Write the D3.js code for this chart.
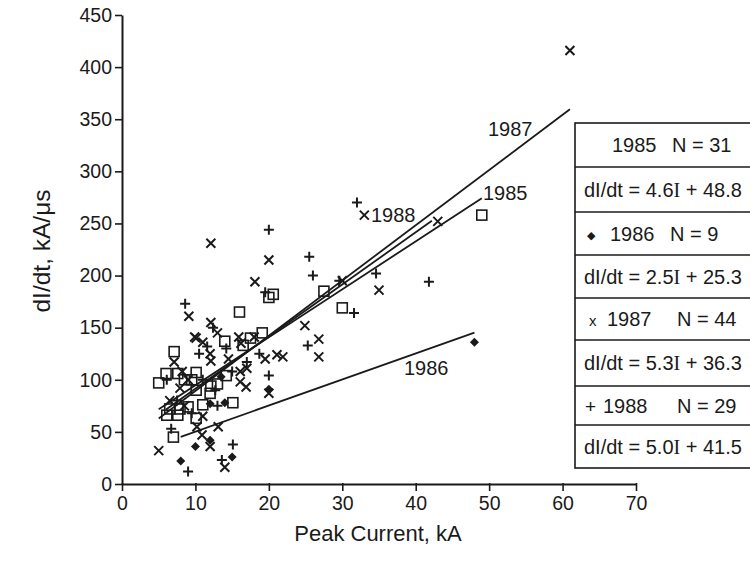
<!DOCTYPE html>
<html><head><meta charset="utf-8">
<script src="https://cdn.jsdelivr.net/npm/d3@7"></script>
<style>body{margin:0;background:#fff;} svg{display:block;font-family:"Liberation Sans",Arial,sans-serif;}</style>
</head><body>
<script>
const xTicks = [0,10,20,30,40,50,60,70];
const yTicks = [0,50,100,150,200,250,300,350,400,450];

const pts1985 = [[49,258],[30,169],[27.5,185],[20.6,182],[20,179],[19.1,145],[16,165],[16.5,133],[14,137],[14.2,104],[15.1,78],[12.1,94],[12,87],[10.1,107],[10.1,90],[10.1,63],[9,74],[7.9,72],[7.6,106],[7.6,66],[7.1,127],[7,45],[6.1,66],[6,106],[5,97],[8.5,100],[11,76],[13,96],[6.5,72],[9.5,100],[17.5,140]];
const pts1986 = [[48,136],[20,91],[15,26],[12,42],[10,36],[8,22],[12,77],[14,78],[13.5,103]];
const pts1987 = [[61,416],[33,258],[43,252],[35,186],[26.8,139],[26.8,122],[24.9,152],[21.9,122],[21.1,124],[20,87],[12.1,231],[20,215],[18.1,194],[9.1,161],[12.1,155],[9.9,141],[15.9,141],[18,141],[10.1,140],[12.1,118],[11,136],[7.1,117],[8.2,108],[7.9,92],[16.2,135],[16.1,108],[16.9,93],[10.2,55],[13.1,55],[10.9,47],[12,36],[14,16],[5,32],[17,111],[16.1,98],[30,195],[12,125],[9,100],[14.5,120],[11,65],[8.5,75],[13,145],[6.5,80],[19.5,120]];
const pts1988 = [[32,270],[34.6,202],[41.8,194],[31.6,164],[20,244],[25.5,218],[26,200],[29.6,195],[8.6,173],[12.4,150],[19.5,184],[11.6,132],[6.1,100],[12.7,90],[6.7,53],[9,12],[15.1,38],[13.6,23],[18.7,125],[25.3,133],[20,104],[10.5,125],[17,117],[15,108],[9.5,68],[13,75],[11,100],[7.5,80],[14.2,130]];

// regression lines
const fitLabels = ["1985","1986","1987","1988"];
const fitSlopes = [4.6,2.5,5.3,5.0];
const fitIntercepts = [48.8,25.3,36.3,41.5];
const fitStarts = [5,8,5,6];
const fitEnds = [49,48,61,42.2];

const legendYears = ["1985","1986","1987","1988"];
const legendN = ["N = 31","N = 9","N = 44","N = 29"];
const legendSyms = ["","\u25C6","x","+"];
const eqSlopes = ["4.6","2.5","5.3","5.0"];
const eqIntercepts = ["48.8","25.3","36.3","41.5"];

const W=750,H=561;
const svg=d3.select("body").append("svg").attr("width",W).attr("height",H);
const x=d3.scaleLinear().domain([0,70]).range([122,636]);
const y=d3.scaleLinear().domain([0,450]).range([484,15]);
const ink="#1a1a1a";
const FF="Liberation Sans, Arial, sans-serif";

// axes
const xa=svg.append("g").attr("transform","translate(0,484)").call(d3.axisBottom(x).tickValues(xTicks).tickSize(7).tickPadding(5).tickSizeOuter(0));
const ya=svg.append("g").attr("transform","translate(122,0)").call(d3.axisLeft(y).tickValues(yTicks).tickSize(7).tickPadding(3).tickSizeOuter(0));
[xa,ya].forEach(a=>{
  a.select(".domain").attr("stroke",ink).attr("stroke-width",2);
  a.selectAll(".tick line").attr("stroke",ink).attr("stroke-width",1.6);
  a.selectAll(".tick text").attr("font-size",19.5).attr("fill",ink).attr("font-family",FF);
});
xa.selectAll(".tick line").attr("y1",-1);

svg.append("text").attr("x",378).attr("y",541).attr("text-anchor","middle").attr("font-size",22).attr("fill",ink).text("Peak Current, kA");
svg.append("text").attr("transform","translate(50,251) rotate(-90)").attr("text-anchor","middle").attr("font-size",24.5).attr("fill",ink).text("dI/dt, kA/\u03BCs");

// regression lines
const lg=svg.append("g");
fitLabels.forEach((l,i)=>{
  lg.append("line")
   .attr("x1",x(fitStarts[i])).attr("y1",y(fitSlopes[i]*fitStarts[i]+fitIntercepts[i]))
   .attr("x2",x(fitEnds[i])).attr("y2",y(fitSlopes[i]*fitEnds[i]+fitIntercepts[i]))
   .attr("stroke",ink).attr("stroke-width",1.8);
});
const lineLabelPos = {"1987":[488,136],"1985":[483,200],"1988":[371,222],"1986":[404,375]};
fitLabels.forEach(l=>{
  svg.append("text").attr("x",lineLabelPos[l][0]).attr("y",lineLabelPos[l][1]).attr("font-size",20).attr("fill",ink).text(l);
});

// markers
const mg=svg.append("g");
pts1985.forEach(d=>{
  mg.append("rect").attr("x",x(d[0])-5).attr("y",y(d[1])-5).attr("width",10).attr("height",10)
    .attr("fill","none").attr("stroke",ink).attr("stroke-width",1.6);
});
pts1986.forEach(d=>{
  const cx=x(d[0]),cy=y(d[1]),r=4.5;
  mg.append("path").attr("d",`M${cx},${cy-r}L${cx+r},${cy}L${cx},${cy+r}L${cx-r},${cy}Z`).attr("fill",ink);
});
pts1987.forEach(d=>{
  const cx=x(d[0]),cy=y(d[1]),r=4.5;
  mg.append("path").attr("d",`M${cx-r},${cy-r}L${cx+r},${cy+r}M${cx-r},${cy+r}L${cx+r},${cy-r}`).attr("stroke",ink).attr("stroke-width",2).attr("fill","none");
});
pts1988.forEach(d=>{
  const cx=x(d[0]),cy=y(d[1]),r=5;
  mg.append("path").attr("d",`M${cx-r},${cy}L${cx+r},${cy}M${cx},${cy-r}L${cx},${cy+r}`).attr("stroke",ink).attr("stroke-width",2).attr("fill","none");
});

// legend table
const tx=575, ty=123, tb=468;
const rowLines=[123,167,212,255,298,340,386,425,468];
const tg=svg.append("g");
tg.append("rect").attr("x",tx).attr("y",ty).attr("width",200).attr("height",tb-ty).attr("fill","#fff").attr("stroke",ink).attr("stroke-width",1.6);
rowLines.slice(1,-1).forEach(yy=>tg.append("line").attr("x1",tx).attr("x2",W).attr("y1",yy).attr("y2",yy).attr("stroke",ink).attr("stroke-width",1.4));
legendYears.forEach((yr,i)=>{
  const r0=2*i, r1=2*i+1;
  const cy0=(rowLines[r0]+rowLines[r0+1])/2+7;
  const cy1=(rowLines[r1]+rowLines[r1+1])/2+7;
  const s=legendSyms[i];
  if(s==="\u25C6") tg.append("text").attr("x",587).attr("y",cy0-2).attr("font-size",11).attr("fill",ink).text(s);
  else if(s==="x") tg.append("text").attr("x",589).attr("y",cy0).attr("font-size",15).attr("fill",ink).text(s);
  else if(s==="+") tg.append("text").attr("x",585).attr("y",cy0).attr("font-size",19).attr("fill",ink).text(s);
  const yx = i===0?612:(i===1?610:(i===2?607:603));
  const nx = i===0?672:(i===1?670:677);
  tg.append("text").attr("x",yx).attr("y",cy0).attr("font-size",20).attr("fill",ink).text(yr);
  tg.append("text").attr("x",nx).attr("y",cy0).attr("font-size",20).attr("fill",ink).text(legendN[i]);
  const t=tg.append("text").attr("x",584).attr("y",cy1).attr("font-size",20).attr("fill",ink);
  t.append("tspan").text("dI/dt = "+eqSlopes[i]);
  t.append("tspan").attr("font-family","Liberation Serif, Times New Roman, serif").attr("font-size",20).text("I");
  t.append("tspan").text(" + "+eqIntercepts[i]);
});
</script>
</body></html>
